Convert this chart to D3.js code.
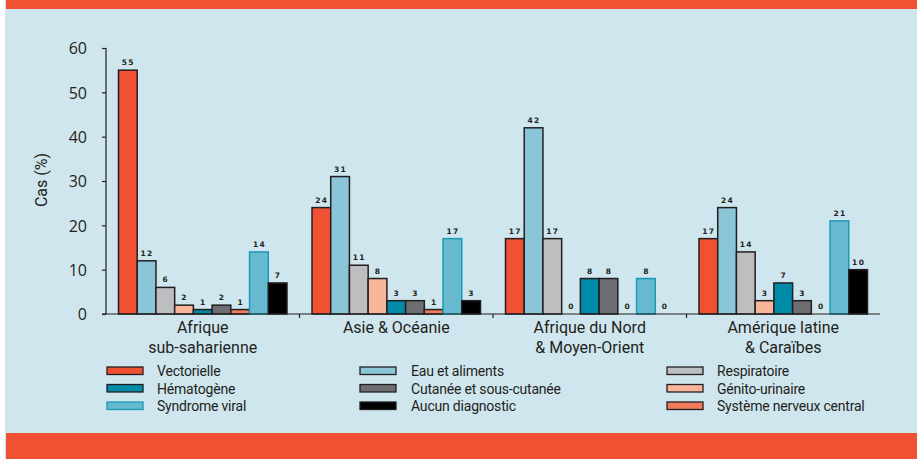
<!DOCTYPE html>
<html>
<head>
<meta charset="utf-8">
<script src="https://cdn.jsdelivr.net/npm/d3@7"></script>
<style>
html,body{margin:0;padding:0;background:#fff;}
svg{display:block;}
</style>
</head>
<body>
<svg id="chart" width="917" height="459"></svg>
<script>
// ---- data ----
const categories = ["Afrique|sub-saharienne", "Asie & Océanie", "Afrique du Nord|& Moyen-Orient", "Amérique latine|& Caraïbes"];
const seriesNames = ["Vectorielle", "Eau et aliments", "Respiratoire", "Génito-urinaire", "Hématogène", "Cutanée et sous-cutanée", "Système nerveux central", "Syndrome viral", "Aucun diagnostic"];
const vectorielle = [55, 24, 17, 17];
const eauAliments = [12, 31, 42, 24];
const respiratoire = [6, 11, 17, 14];
const genitoUrinaire = [2, 8, 0, 3];
const hematogene = [1, 3, 8, 7];
const cutanee = [2, 3, 8, 3];
const systemeNerveux = [1, 1, 0, 0];
const syndromeViral = [14, 17, 8, 21];
const aucunDiagnostic = [7, 3, 0, 10];
const yTicks = [0, 10, 20, 30, 40, 50, 60];
const legendOrder = ["Vectorielle", "Eau et aliments", "Respiratoire", "Hématogène", "Cutanée et sous-cutanée", "Génito-urinaire", "Syndrome viral", "Aucun diagnostic", "Système nerveux central"];

const seriesValues = [vectorielle, eauAliments, respiratoire, genitoUrinaire, hematogene, cutanee, systemeNerveux, syndromeViral, aucunDiagnostic];

// ---- styles ----
const fills = {
  "Vectorielle": "#F05133",
  "Eau et aliments": "#8AC6D8",
  "Respiratoire": "#BDBEC0",
  "Génito-urinaire": "#F9B59B",
  "Hématogène": "#008CA8",
  "Cutanée et sous-cutanée": "#6D6E71",
  "Système nerveux central": "#F27B5B",
  "Syndrome viral": "#67B9CF",
  "Aucun diagnostic": "#000000"
};
const strokes = {"Syndrome viral": "#1A9BB5"};
const textFont = "'Roboto', sans-serif";
const numFont = "'Open Sans', sans-serif";

const svg = d3.select("#chart");

// background
svg.append("rect").attr("x", 5).attr("y", 0).attr("width", 912).attr("height", 459).attr("fill", "#CFE6EE");
svg.append("rect").attr("x", 6).attr("y", 0).attr("width", 911).attr("height", 9).attr("fill", "#F05133");
svg.append("rect").attr("x", 6).attr("y", 433).attr("width", 911).attr("height", 26).attr("fill", "#F05133");

// scales
const x0 = d3.scaleBand().domain(categories).range([106, 880]).padding(0);
const x1 = d3.scaleBand().domain(seriesNames).range([12.5, x0.bandwidth() - 12.5]).padding(0);
const y = d3.scaleLinear().domain([0, 60]).range([314, 48]);

// bars
const data = [];
categories.forEach((c, ci) => {
  seriesNames.forEach((s, si) => {
    data.push({cat: c, series: s, value: seriesValues[si][ci]});
  });
});

const g = svg.append("g");
g.selectAll("rect.bar")
  .data(data.filter(d => d.value > 0))
  .join("rect")
  .attr("class", "bar")
  .attr("x", d => x0(d.cat) + x1(d.series))
  .attr("y", d => y(d.value))
  .attr("width", x1.bandwidth())
  .attr("height", d => y(0) - y(d.value))
  .attr("fill", d => fills[d.series])
  .attr("stroke", d => strokes[d.series] || "#231F20")
  .attr("stroke-width", 1.5);

// value labels
g.selectAll("text.val")
  .data(data)
  .join("text")
  .attr("class", "val")
  .attr("x", d => x0(d.cat) + x1(d.series) + x1.bandwidth() / 2 + 0.5)
  .attr("y", d => y(d.value) - 5)
  .attr("text-anchor", "middle")
  .attr("font-family", "'DejaVu Sans', sans-serif")
  .attr("font-weight", "bold")
  .attr("font-size", "7.5px")
  .attr("letter-spacing", "1.3px")
  .attr("fill", "#231F20")
  .text(d => d.value);

// y axis
const yAxis = d3.axisLeft(y).tickValues(yTicks).tickSize(4).tickPadding(15);
const ya = svg.append("g").attr("transform", "translate(106,0)").call(yAxis);
ya.select(".domain").attr("stroke", "#231F20").attr("stroke-width", 1.2).attr("d", "M0,48V314");
ya.selectAll(".tick line").attr("stroke", "#231F20").attr("stroke-width", 1.2);
ya.selectAll(".tick text").attr("font-family", numFont).attr("font-size", "16px").attr("fill", "#231F20").attr("dy", "0.36em");

// x axis
const xa = svg.append("g").attr("transform", "translate(0,314)");
xa.append("line").attr("x1", 102).attr("x2", 880).attr("y1", 0).attr("y2", 0).attr("stroke", "#231F20").attr("stroke-width", 1.2);
xa.selectAll("line.tk")
  .data(categories.slice(1))
  .join("line")
  .attr("class", "tk")
  .attr("x1", d => x0(d)).attr("x2", d => x0(d))
  .attr("y1", 0).attr("y2", 4)
  .attr("stroke", "#231F20").attr("stroke-width", 1.2);

// category labels
const cl = svg.append("g").selectAll("text.cat")
  .data(categories)
  .join("text")
  .attr("class", "cat")
  .attr("x", d => x0(d) + x0.bandwidth() / 2)
  .attr("y", 333)
  .attr("text-anchor", "middle")
  .attr("font-family", textFont)
  .attr("font-size", "16px")
  .attr("fill", "#231F20");
cl.each(function(d) {
  const lines = d.split("|");
  const t = d3.select(this);
  lines.forEach((ln, i) => {
    t.append("tspan").attr("x", x0(d) + x0.bandwidth() / 2).attr("dy", i === 0 ? 0 : 19.5).text(ln);
  });
});

// y title
svg.append("text")
  .attr("transform", "translate(47,180) rotate(-90)")
  .attr("text-anchor", "middle")
  .attr("font-family", textFont)
  .attr("font-size", "16px")
  .attr("fill", "#231F20")
  .text("Cas (%)");

// legend
const colSwatchX = [107, 360, 667];
const colTextX = [157, 411, 717];
const lg = svg.append("g");
legendOrder.forEach((name, i) => {
  const col = i % 3, row = Math.floor(i / 3);
  const yy = 371 + row * 17.5;
  lg.append("rect")
    .attr("x", colSwatchX[col]).attr("y", yy - 4)
    .attr("width", 36).attr("height", 7.5)
    .attr("fill", fills[name])
    .attr("stroke", strokes[name] || "#231F20")
    .attr("stroke-width", 1.3);
  lg.append("text")
    .attr("x", colTextX[col]).attr("y", yy + 5)
    .attr("font-family", textFont)
    .attr("font-size", "14px")
    .attr("letter-spacing", "-0.2px")
    .attr("fill", "#231F20")
    .text(name);
});
</script>
</body>
</html>
